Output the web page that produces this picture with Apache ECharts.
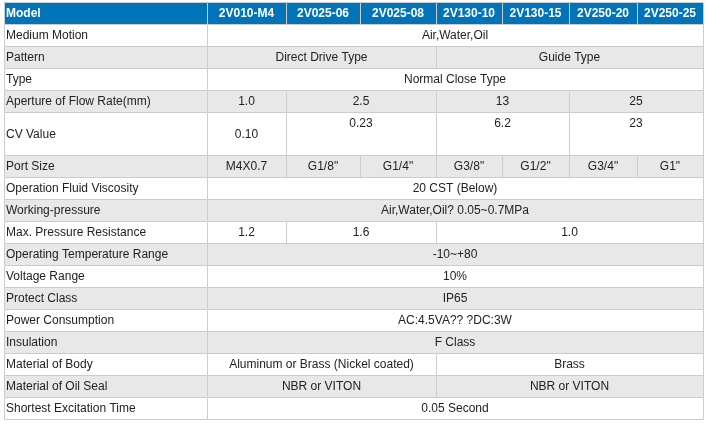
<!DOCTYPE html>
<html>
<head>
<meta charset="utf-8">
<script src="https://cdn.jsdelivr.net/npm/echarts@6/dist/echarts.min.js"></script>
<style>
html,body{margin:0;padding:0;background:#fff;}
#chart{width:707px;height:423px;}
</style>
</head>
<body>
<div id="chart"></div>
<script>
// ---- data ----
const headerLabel = 'Model';
const models = ['2V010-M4','2V025-06','2V025-08','2V130-10','2V130-15','2V250-20','2V250-25'];
const rowLabels = [
  'Medium Motion','Pattern','Type','Aperture of Flow Rate(mm)','CV Value','Port Size',
  'Operation Fluid Viscosity','Working-pressure','Max. Pressure Resistance',
  'Operating Temperature Range','Voltage Range','Protect Class','Power Consumption',
  'Insulation','Material of Body','Material of Oil Seal','Shortest Excitation Time'
];
const rowValues = [
  ['Air,Water,Oil'],
  ['Direct Drive Type','Guide Type'],
  ['Normal Close Type'],
  ['1.0','2.5','13','25'],
  ['0.10','0.23','6.2','23'],
  ['M4X0.7','G1/8"','G1/4"','G3/8"','G1/2"','G3/4"','G1"'],
  ['20 CST (Below)'],
  ['Air,Water,Oil? 0.05~0.7MPa'],
  ['1.2','1.6','1.0'],
  ['-10~+80'],
  ['10%'],
  ['IP65'],
  ['AC:4.5VA?? ?DC:3W'],
  ['F Class'],
  ['Aluminum or Brass (Nickel coated)','Brass'],
  ['NBR or VITON','NBR or VITON'],
  ['0.05 Second']
];
// number of model columns each value spans
const rowSpans = [
  [7],[3,4],[7],[1,2,2,2],[1,2,2,2],[1,1,1,1,1,1,1],[7],[7],[1,2,4],
  [7],[7],[7],[7],[7],[3,4],[3,4],[7]
];

// ---- layout (not data) ----
const colWidths = [203,79,74,76,66,67,68,66];
const baseRowHeight = 22;
const tallRows = {4: 43};          // CV Value row is taller
const topAlignedCells = {'4-1':1,'4-2':1,'4-3':1}; // text at top of tall cell
const colEdges = [0];
colWidths.forEach(w => colEdges.push(colEdges[colEdges.length-1] + w));
const rowEdges = [0, baseRowHeight];
rowLabels.forEach((_, i) => rowEdges.push(rowEdges[rowEdges.length-1] + (tallRows[i] || baseRowHeight)));
const totalW = colEdges[colEdges.length-1];
const totalH = rowEdges[rowEdges.length-1];

// ---- build cells ----
const cells = [];
cells.push({x0:0,x1:colEdges[1],y0:0,y1:rowEdges[1],text:headerLabel,kind:'header',align:'left'});
models.forEach((m,i)=>{
  cells.push({x0:colEdges[i+1],x1:colEdges[i+2],y0:0,y1:rowEdges[1],text:m,kind:'header',align:'center'});
});
rowLabels.forEach((lab,r)=>{
  const y0 = rowEdges[r+1], y1 = rowEdges[r+2];
  const kind = (r % 2 === 1) ? 'gray' : 'white';
  cells.push({x0:0,x1:colEdges[1],y0,y1,text:lab,kind,align:'left'});
  let c = 1;
  rowValues[r].forEach((v,k)=>{
    const span = rowSpans[r][k];
    cells.push({x0:colEdges[c],x1:colEdges[c+span],y0,y1,text:v,kind,align:'center',
      top: !!topAlignedCells[r+'-'+k]});
    c += span;
  });
});

const fills = {header:'#0073B9', gray:'#E8E8E8', white:'#FFFFFF'};

const chart = echarts.init(document.getElementById('chart'), null, {renderer:'canvas'});
chart.setOption({
  animation:false,
  backgroundColor:'#fff',
  grid:{left:4, top:2, width:totalW, height:totalH},
  xAxis:{type:'value', min:0, max:totalW, show:false},
  yAxis:{type:'value', min:0, max:totalH, inverse:true, show:false},
  series:[{
    type:'custom',
    silent:true,
    data: cells.map((c,i)=>[c.x0,c.y0,c.x1,c.y1,i]),
    renderItem:function(params, api){
      const c = cells[params.dataIndex];
      const p0 = api.coord([c.x0, c.y0]);
      const p1 = api.coord([c.x1, c.y1]);
      const x = Math.round(p0[0]), y = Math.round(p0[1]);
      const w = Math.round(p1[0]) - x, h = Math.round(p1[1]) - y;
      const isHeader = c.kind === 'header';
      const tx = c.align === 'left' ? x + 2 : x + w/2;
      const ty = c.top ? y + 12 : y + h/2 + 1;
      return {
        type:'group',
        children:[
          {type:'rect', shape:{x:x, y:y, width:w, height:h}, style:{fill:fills[c.kind]}},
          {type:'rect', shape:{x:x+0.5, y:y+0.5, width:w, height:h},
            style:{fill:'none', stroke:'#CCCCCC', lineWidth:1}},
          {type:'text', style:{
            x:tx, y:ty, text:c.text,
            align:c.align, verticalAlign:'middle',
            fontFamily:'"Liberation Sans", Arial, sans-serif',
            fontSize:12, fontWeight: isHeader ? 'bold' : 'normal',
            fill: isHeader ? '#FFFFFF' : '#222222'
          }}
        ]
      };
    }
  }]
});
</script>
</body>
</html>
